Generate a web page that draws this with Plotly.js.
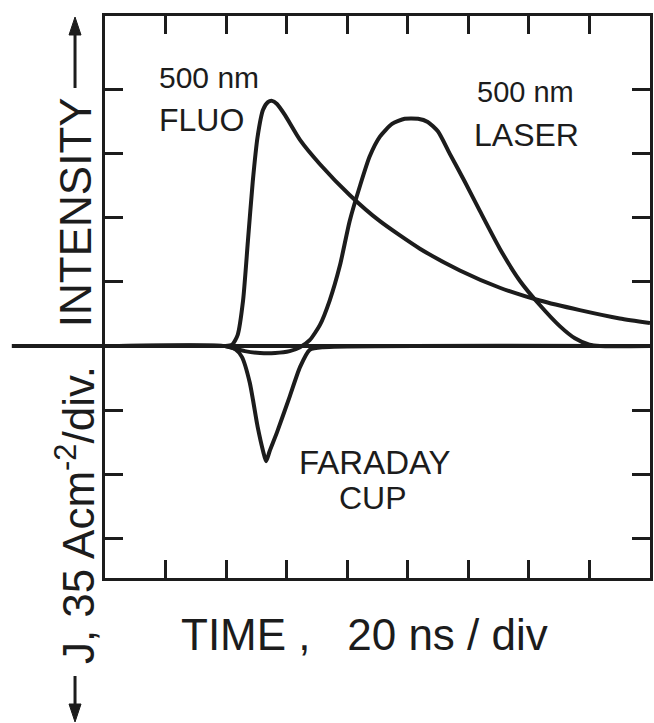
<!DOCTYPE html>
<html>
<head>
<meta charset="utf-8">
<script src="https://cdn.plot.ly/plotly-3.0.1.min.js"></script>
<style>
  html, body { margin: 0; padding: 0; background: #fff; }
  #chart { width: 654px; height: 723px; }
</style>
</head>
<body>
<div id="chart"></div>
<script>
// Time axis in divisions (20 ns / div); signal axes in divisions
const fluoTime = [0, 1.57, 1.98, 2.10, 2.19, 2.28, 2.36, 2.44, 2.52, 2.61, 2.69, 2.76, 2.84, 2.97, 3.22, 3.55, 4.04, 4.54, 5.20, 5.86, 6.52, 7.18, 7.84, 8.50, 9.0];
const fluoIntensity = [0, 0, 0, 0.02, 0.17, 0.71, 1.64, 2.57, 3.27, 3.69, 3.81, 3.83, 3.78, 3.61, 3.22, 2.84, 2.36, 1.95, 1.52, 1.18, 0.91, 0.71, 0.56, 0.43, 0.36];

const laserTime = [0, 1.98, 2.10, 2.31, 2.56, 2.81, 3.05, 3.22, 3.38, 3.55, 3.71, 3.88, 4.04, 4.21, 4.37, 4.54, 4.74, 4.95, 5.17, 5.33, 5.50, 5.69, 5.94, 6.19, 6.52, 6.85, 7.18, 7.51, 7.76, 8.00, 8.17, 9.0];
const laserIntensity = [0, 0, -0.03, -0.08, -0.11, -0.11, -0.08, -0.02, 0.09, 0.33, 0.71, 1.26, 1.95, 2.50, 2.96, 3.27, 3.47, 3.55, 3.55, 3.50, 3.35, 3.01, 2.57, 2.11, 1.52, 1.02, 0.64, 0.31, 0.12, 0.02, 0, 0];

const cupTime = [0, 1.98, 2.15, 2.26, 2.39, 2.52, 2.61, 2.66, 2.72, 2.84, 3.05, 3.22, 3.38, 3.60, 9.0];
const cupCurrent = [0, 0, -0.05, -0.17, -0.57, -1.26, -1.64, -1.80, -1.64, -1.35, -0.79, -0.33, -0.06, -0.02, 0];

const xRange = [0, 9];
const yRange = [-3.625, 5.156];
const xTickVals = [1, 2, 3, 4, 5, 6, 7, 8];
const yTickVals = [-3, -2, -1, 1, 2, 3, 4];

const ink = '#1c1c1c';
const font = 'Liberation Sans, Arial, Helvetica, sans-serif';

function trace(x, y) {
  return { x: x, y: y, type: 'scatter', mode: 'lines',
           line: { color: ink, width: 4, shape: 'spline', smoothing: 0.6 },
           hoverinfo: 'skip', showlegend: false };
}

const data = [
  trace(cupTime, cupCurrent),
  trace(laserTime, laserIntensity),
  trace(fluoTime, fluoIntensity)
];

const axisCommon = {
  showgrid: false, zeroline: false, showticklabels: false,
  showline: true, linecolor: ink, linewidth: 3, mirror: 'ticks',
  ticks: 'inside', ticklen: 18, tickwidth: 3, tickcolor: ink,
  tickmode: 'array', fixedrange: true
};

const yZeroPaper = (0 - yRange[0]) / (yRange[1] - yRange[0]);

function label(text, x, y, size, xanchor) {
  return { text: text, x: x, y: y, xref: 'paper', yref: 'paper',
           xanchor: xanchor || 'left', yanchor: 'middle', showarrow: false,
           font: { family: font, size: size, color: ink } };
}

// axis-title arrows (paper coordinates)
const ax = -0.055, hw = 0.011;
function seg(x0, y0, x1, y1) {
  return { type: 'line', xref: 'paper', yref: 'paper', x0: x0, y0: y0, x1: x1, y1: y1,
           line: { color: ink, width: 3 } };
}
function head(tipY, baseY) {
  return { type: 'path', xref: 'paper', yref: 'paper',
           path: 'M ' + ax + ' ' + tipY + ' L ' + (ax - hw) + ' ' + baseY + ' L ' + (ax + hw) + ' ' + baseY + ' Z',
           fillcolor: ink, line: { color: ink, width: 1 } };
}

const layout = {
  width: 654, height: 723,
  margin: { l: 105, r: 4, t: 16, b: 145, pad: 0 },
  paper_bgcolor: '#fff', plot_bgcolor: '#fff',
  xaxis: Object.assign({}, axisCommon, { range: xRange, tickvals: xTickVals }),
  yaxis: Object.assign({}, axisCommon, { range: yRange, tickvals: yTickVals }),
  shapes: [
    { type: 'line', xref: 'paper', yref: 'paper', x0: -0.171, x1: 1,
      y0: yZeroPaper, y1: yZeroPaper, line: { color: ink, width: 4 } },
    seg(ax, 0.8719, ax, 0.975),
    head(0.9982, 0.9662),
    seg(ax, -0.1744, ax, -0.230),
    head(-0.2562, -0.2242)
  ],
  annotations: [
    label('500 nm', 0.0954, 0.890, 30),
    label('FLUO', 0.0954, 0.815, 32),
    label('500 nm', 0.679, 0.865, 29),
    label('LASER', 0.673, 0.788, 32),
    label('FARADAY', 0.352, 0.206, 33),
    label('CUP', 0.426, 0.142, 32),
    label('TIME\u00a0,\u00a0\u00a0 20 ns / div', 0.477, -0.101, 44, 'center'),
    Object.assign(label('INTENSITY', -0.055, 0.651, 44, 'center'), { textangle: -90 }),
    Object.assign(label('J, 35 Acm<sup>-2</sup>/div.', -0.055, 0.112, 44, 'center'), { textangle: -90 })
  ]
};

Plotly.newPlot('chart', data, layout, { displayModeBar: false, staticPlot: true });
</script>
</body>
</html>
